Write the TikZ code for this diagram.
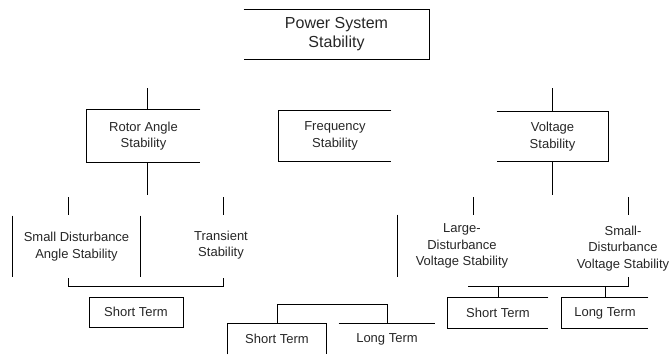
\documentclass[tikz,border=0pt]{standalone}
\usepackage{fontspec}
\setmainfont{Liberation Sans}
\begin{document}
\begin{tikzpicture}[x=1pt, y=-1pt, line width=0.8pt,
  blk/.style={align=center, inner sep=0pt, text=black!85, font=\fontsize{13}{16.5}\selectfont}]
\useasboundingbox (0,0) rectangle (670,354);
% top level
\node[blk, font=\fontsize{16}{19}\selectfont, minimum width=185pt, minimum height=49pt] (pss) at (336.5,34.5) {Power System\\Stability};
\draw (pss.north west) -- (pss.north east) -- (pss.south east) -- (pss.south west);

% second level
\node[blk, minimum width=113pt, minimum height=52pt] (ras) at (143.5,136) {Rotor Angle\\Stability};
\node[blk, minimum width=112pt, minimum height=50pt] (fs) at (335,136) {Frequency\\Stability};
\node[blk, minimum width=111pt, minimum height=49pt] (vs) at (552.5,136.5) {Voltage\\Stability};
\draw (ras.north east) -- (ras.north west) -- (ras.south west) -- (ras.south east);
\draw (fs.north east) -- (fs.north west) -- (fs.south west) -- (fs.south east);
\draw (vs.north west) -- (vs.north east) -- (vs.south east) -- (vs.south west);

\coordinate (rastop) at (147,88);
\coordinate (rasbot) at (147,195);
\coordinate (vstop) at (552,88);
\coordinate (vsbot) at (552,195);
\draw (rastop) -- (rastop |- ras.north);
\draw (rasbot |- ras.south) -- (rasbot);
\draw (vstop) -- (vstop |- vs.north);
\draw (vsbot |- vs.south) -- (vsbot);

% third level
\node[blk, minimum width=127pt, minimum height=61pt] (sdas) at (76.5,246.5) {Small Disturbance\\Angle Stability};
\node[blk] (ts) at (221,245) {Transient\\Stability};
\node[blk, minimum width=128pt, minimum height=62pt] (ldvs) at (462,246) {Large-\\Disturbance\\Voltage Stability};
\node[blk] (sdvs) at (623,248.5) {Small-\\Disturbance\\Voltage Stability};
\draw (sdas.north west) -- (sdas.south west);
\draw (sdas.north east) -- (sdas.south east);
\draw (ldvs.north west) -- (ldvs.south west);
\foreach \x in {68,223,473,628}
  \draw (\x,197) -- (\x,215);

% bottom level
\node[blk, draw, minimum width=94pt, minimum height=30pt] (st1) at (136,312) {Short Term};
\node[blk, minimum width=98pt, minimum height=30pt] (st2) at (277,339) {Short Term};
\node[blk, minimum width=96pt, minimum height=30pt] (lt1) at (387,339) {Long Term};
\node[blk, minimum width=100pt, minimum height=30pt] (st3) at (498,313) {Short Term};
\node[blk, minimum width=86pt, minimum height=30pt] (lt2) at (605,313) {Long Term};
\draw (st2.south west) -- (st2.north west) -- (st2.north east) -- (st2.south east);
\draw (lt1.north west) -- (lt1.north east);
\draw (st3.north east) -- (st3.north west) -- (st3.south west) -- (st3.south east);
\draw (lt2.north east) -- (lt2.north west) -- (lt2.south west) -- (lt2.south east);

\coordinate (lbl) at (68,278);
\coordinate (lbr) at (223,278);
\draw (lbl) -- ++(0,8) -| (lbr);
\draw (st2.north) -- ++(0,-19) -| (lt1.north);
\coordinate (rbr) at (628,277);
\coordinate (rbl) at (468,286);
\draw (rbr) |- (rbl);
\draw (st3.north) -- (st3.north |- rbl);
\draw (lt2.north) -- (lt2.north |- rbl);
\end{tikzpicture}
\end{document}
